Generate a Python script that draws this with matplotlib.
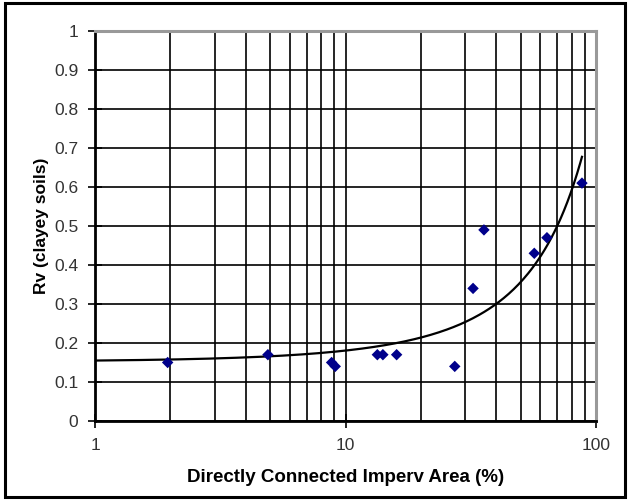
#!/usr/bin/env python3

import matplotlib
matplotlib.use('Agg')
import matplotlib.pyplot as plt
import numpy as np
from matplotlib.patches import Rectangle

################################################################################

# impervious area (%) and Rv
imperv = [1.95, 4.9, 8.8, 9.1, 13.4, 14.1, 16.0, 27.3, 32.3, 35.7, 56.7, 63.7, 87.9]
rv = [0.15, 0.17, 0.15, 0.14, 0.17, 0.17, 0.17, 0.14, 0.34, 0.49, 0.43, 0.47, 0.61]

# exponential trendline y = a * exp(b * x)
trend_a = 0.1524
trend_b = 0.01697
trend_start = 1

y_ticks = [0, 0.1, 0.2, 0.3, 0.4, 0.5, 0.6, 0.7, 0.8, 0.9, 1]
y_tick_labels = ['0', '0.1', '0.2', '0.3', '0.4', '0.5', '0.6', '0.7', '0.8', '0.9', '1']
x_ticks = [1, 10, 100]
x_tick_labels = ['1', '10', '100']

################################################################################

if __name__ == '__main__':

	plt.rcParams['font.family'] = ['Liberation Sans', 'DejaVu Sans']

	fig = plt.figure(figsize = (6.28, 5.01), dpi = 100)
	W, H = 628.0, 501.0

	# outer frame round the whole chart
	fig.patches.append(Rectangle((5 / W, 4 / H), 620 / W, 494 / H, transform = fig.transFigure,
		fill = False, edgecolor = 'black', linewidth = 2.2))

	ax = fig.add_axes([95 / W, 1 - 421 / H, 501 / W, 390 / H])

	# trendline from the left edge to the last point
	xs = np.logspace(np.log10(trend_start), np.log10(max(imperv)), 300)
	ax.plot(xs, trend_a * np.exp(trend_b * xs), color = 'black', linewidth = 1.6, zorder = 3)

	ax.scatter(imperv, rv, marker = 'D', s = 34, color = '#00008b', edgecolors = 'none', zorder = 4)

	ax.set_xscale('log')
	ax.set_xlim(1, 100)
	ax.set_ylim(0, 1)

	# grid lines
	ax.grid(True, which = 'major', axis = 'y', color = 'black', linewidth = 1.2)
	ax.grid(True, which = 'both', axis = 'x', color = 'black', linewidth = 1.2)
	ax.set_axisbelow(True)

	ax.set_yticks(y_ticks)
	ax.set_yticklabels(y_tick_labels)
	ax.set_xticks(x_ticks)
	ax.set_xticklabels(x_tick_labels)
	ax.tick_params(axis = 'x', which = 'minor', length = 0)
	ax.tick_params(axis = 'both', which = 'major', direction = 'inout', length = 10, width = 1.2,
		labelsize = 12.5, colors = 'black', labelcolor = '#333333')
	ax.tick_params(axis = 'y', which = 'major', pad = 7)
	ax.tick_params(axis = 'x', which = 'major', pad = 7)

	# beautification
	for side in ['left', 'bottom']:
		ax.spines[side].set_color('black')
		ax.spines[side].set_linewidth(2.0)
	for side in ['top', 'right']:
		ax.spines[side].set_color('#999999')
		ax.spines[side].set_linewidth(2.2)

	ax.set_xlabel('Directly Connected Imperv Area (%)', fontsize = 13.5, fontweight = 'bold', labelpad = 12)
	ax.set_ylabel('Rv (clayey soils)', fontsize = 12.5, fontweight = 'bold', labelpad = 4)

	fig.savefig('out.png', dpi = 100)
